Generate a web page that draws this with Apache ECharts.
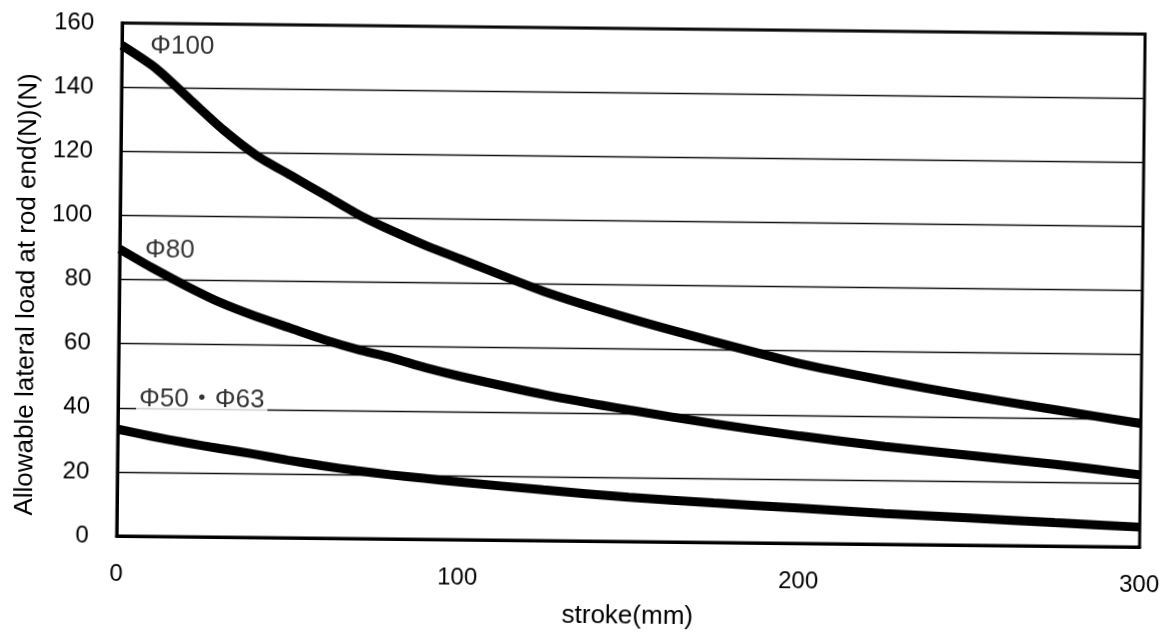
<!DOCTYPE html>
<html>
<head>
<meta charset="utf-8">
<script src="https://cdn.jsdelivr.net/npm/echarts@6/dist/echarts.min.js"></script>
<style>
  html, body { margin: 0; padding: 0; background: #fff; }
  #chart { width: 1171px; height: 638px; transform: rotate(0.62deg); transform-origin: 585.5px 319px; }
</style>
</head>
<body>
<div id="chart"></div>
<script>
// ---- data ----
const strokeX   = [0, 10, 20, 30, 40, 50, 60, 70, 80, 90, 100, 125, 150, 175, 200, 225, 250, 275, 300];
const phi100    = [153, 146, 136.5, 127, 119, 113, 107, 101, 96, 91.5, 87.5, 77.5, 69.5, 62.5, 56, 51, 46.5, 42.5, 38.5];
const phi80     = [89.5, 83.5, 78, 73, 69, 65.5, 62, 59, 56.5, 53.5, 51, 45.5, 41, 37, 33.5, 30.5, 28, 25.5, 22.5];
const phi50_63  = [33.3, 31.2, 29.3, 27.6, 26, 24.2, 22.6, 21.2, 20, 19, 18, 15.8, 13.8, 12.3, 11, 9.6, 8.5, 7.3, 6.2];
const seriesNames = ['Φ100', 'Φ80', 'Φ50・Φ63'];
const xTicks = [0, 100, 200, 300];
const yTicks = [0, 20, 40, 60, 80, 100, 120, 140, 160];
const xTitle = 'stroke(mm)';
const yTitle = 'Allowable lateral load at rod end(N)(N)';
// label anchors (data units)
const labelAnchors = [[8.3, 153], [7.4, 89.4], [5.3, 42.7]];

const allSeries = [phi100, phi80, phi50_63];
const font = '"Liberation Sans", Arial, "Noto Sans CJK JP", sans-serif';

const chart = echarts.init(document.getElementById('chart'), null, { renderer: 'canvas' });

const lineSeries = allSeries.map((vals, i) => ({
  name: seriesNames[i],
  type: 'line',
  data: strokeX.map((x, j) => [x, vals[j]]),
  smooth: 0.25,
  showSymbol: false,
  lineStyle: { color: '#000', width: 9, cap: 'butt' },
  z: 3,
  silent: true
}));

const labelSeries = {
  type: 'scatter',
  symbolSize: 0,
  z: 5,
  silent: true,
  data: labelAnchors.map((p, i) => ({
    value: p,
    label: {
      show: true,
      formatter: seriesNames[i],
      position: 'right',
      distance: 0,
      color: '#000',
      fontSize: 26,
      fontFamily: font,
      backgroundColor: i === 2 ? '#fff' : 'transparent',
      padding: i === 2 ? [2, 3, 2, 3] : 0
    }
  }))
};

chart.setOption({
  animation: false,
  backgroundColor: '#fff',
  grid: {
    left: 119, right: 29, top: 28, bottom: 97,
    show: true, borderColor: '#000', borderWidth: 3, backgroundColor: 'transparent'
  },
  xAxis: {
    type: 'value',
    min: xTicks[0], max: xTicks[xTicks.length - 1], interval: 100,
    name: xTitle,
    nameLocation: 'middle',
    nameGap: 62,
    nameTextStyle: { fontSize: 26, color: '#000', fontFamily: font },
    axisLine: { show: true, lineStyle: { color: '#000', width: 3 } },
    axisTick: { show: false },
    splitLine: { show: false },
    axisLabel: { fontSize: 24, color: '#000', fontFamily: font, margin: 26 }
  },
  yAxis: {
    type: 'value',
    min: yTicks[0], max: yTicks[yTicks.length - 1], interval: 20,
    name: yTitle,
    nameLocation: 'middle',
    nameGap: 78,
    nameRotate: 90,
    nameTextStyle: { fontSize: 26, color: '#000', fontFamily: font, padding: [0, 32, 0, 0] },
    axisLine: { show: true, lineStyle: { color: '#000', width: 3 } },
    axisTick: { show: false },
    splitLine: { show: true, lineStyle: { color: '#111', width: 1.3 } },
    axisLabel: { fontSize: 24, color: '#000', fontFamily: font, margin: 28 }
  },
  series: [...lineSeries, labelSeries]
});
</script>
</body>
</html>
